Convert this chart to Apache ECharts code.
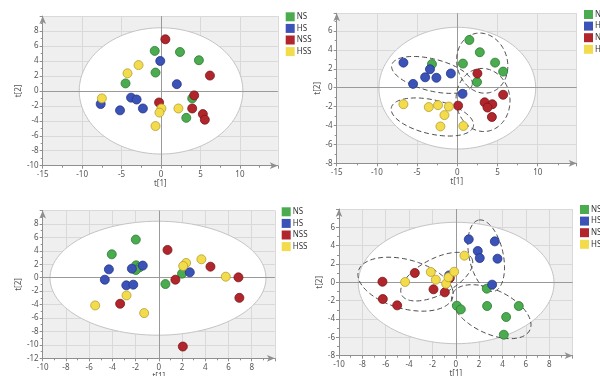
<!DOCTYPE html>
<html><head><meta charset="utf-8">
<script src="https://cdn.jsdelivr.net/npm/echarts@6/dist/echarts.min.js"></script>
<style>html,body{margin:0;padding:0;background:#fff}#c{width:600px;height:376px}</style>
</head><body><div id="c"></div>
<script>
// ---------- data ----------
const groups = ['NS', 'HS', 'NSS', 'HSS'];
const p1NS  = [[-0.8,5.35],[2.4,5.2],[4.8,4.1],[-0.7,2.45],[-4.5,1.0],[3.95,-1.0],[3.2,-3.6]];
const p1HS  = [[-0.1,4.0],[2.0,0.9],[-3.8,-0.9],[-3.1,-1.15],[-2.3,-2.35],[-5.2,-2.6],[-7.65,-1.75]];
const p1NSS = [[0.55,6.9],[6.2,2.05],[4.2,-0.6],[-0.25,-1.55],[3.95,-2.35],[5.3,-3.1],[5.55,-3.85]];
const p1HSS = [[-2.85,3.45],[-4.25,2.35],[-7.5,-1.0],[0.05,-2.35],[-0.2,-2.9],[2.2,-2.35],[-0.7,-4.7]];

const p2NS  = [[1.5,5.05],[2.8,3.75],[4.7,2.65],[5.7,1.7],[0.7,2.55],[-3.15,2.5],[2.45,0.6]];
const p2HS  = [[-6.7,2.65],[-3.4,1.95],[-4.0,1.1],[-2.6,1.05],[-0.8,1.5],[-5.5,0.4],[0.65,-0.65]];
const p2NSS = [[2.5,1.5],[5.7,-0.75],[3.4,-1.55],[4.35,-1.75],[3.75,-2.1],[4.3,-3.1],[0.1,-1.9]];
const p2HSS = [[-6.7,-1.75],[-3.55,-2.05],[-2.4,-1.85],[-1.05,-2.0],[-1.6,-2.9],[-2.1,-4.1],[0.75,-4.05]];

const p3NS  = [[-1.98,5.67],[-4.05,3.48],[-1.95,1.84],[-1.66,1.54],[-1.98,1.14],[2.0,0.6],[0.57,-0.95]];
const p3HS  = [[-1.38,1.8],[-2.32,1.34],[-4.3,1.24],[-4.65,-0.3],[-2.8,-1.14],[-2.2,-1.04],[2.67,0.8]];
const p3NSS = [[0.75,4.13],[4.45,1.64],[6.86,0.05],[6.94,-3.0],[1.43,-0.3],[-3.33,-3.88],[2.07,-10.25]];
const p3HSS = [[3.67,2.74],[2.35,2.19],[2.1,1.74],[5.77,0.15],[-2.78,-2.64],[-5.48,-4.13],[-1.26,-5.27]];

const p4NS  = [[2.65,-0.69],[0.09,-2.55],[0.43,-2.95],[2.68,-2.58],[5.39,-2.58],[4.31,-3.78],[4.11,-5.71]];
const p4HS  = [[1.11,4.69],[3.34,4.47],[1.88,3.42],[2.05,2.65],[3.57,2.58],[3.11,-0.25],[-0.57,0.76]];
const p4NSS = [[-6.28,0.07],[-6.25,-1.82],[-5.02,-2.51],[-3.51,1.02],[-1.91,-0.76],[-0.94,-1.09],[-0.51,0.47]];
const p4HSS = [[-4.34,0.04],[-2.14,1.13],[-1.71,0.29],[-0.83,-0.15],[-0.63,0.55],[-0.14,1.16],[0.74,2.91]];

// ellipses: [cx, cy, ux, uy, vx, vy]
const p1Main = [[0, 0, 10.37, 0, 0, 8.44]];
const p2Main = [[0, -0.05, 9.75, 0, 0, 6.44]];
const p3Main = [[-0.07, -0.08, 9.3, 0, 0, 8.48]];
const p4Main = [[0.03, -0.07, 8.38, 0, 0, 6.62]];
const p2Groups = [[3.1,2.6,-1.2,3.05,2.95,0.9],[-3.15,1.35,5.0,-1.06,-0.48,-1.64],[3.2,-1.3,-0.6,3.3,3.3,0.5],[-3.1,-3.1,5.1,-1.0,-0.5,-1.75]];
const p4Groups = [[3.04,-3.2,3.3,-2.0,-0.81,-2.16],[2.6,2.9,-0.6,3.9,1.45,0.25],[-4.3,-0.2,4.0,-0.5,-0.8,2.9],[-1.63,0.62,3.0,2.0,0.715,-1.74]];

// axis ranges
const xMin = [-15, -15, -10, -10], xMax = [14.8, 14.85, 10, 10], xInt = [5, 5, 2, 2];
const yMin = [-10, -8, -12, -8], yMax = [10, 7.87, 10, 8], yInt = [2, 2, 2, 2];

// ---------- style ----------
const FONT = 'Noto Sans';
const colors = {NS:'#4aab4f', HS:'#3b52b6', NSS:'#b1262c', HSS:'#f3dc4b'};
const borders = {NS:'#2f7a33', HS:'#24358a', NSS:'#781518', HSS:'#b59d33'};
const grids = [
  {left:42.7, top:16.1, width:235.1, height:149.6},
  {left:336.7, top:13.3, width:240, height:150},
  {left:42.7, top:210.5, width:232.2, height:147.8},
  {left:339, top:209, width:233.6, height:146.7}
];
const legendPos = [[285.7,12.3],[584,10],[281.7,207.3],[580,205]];
const yNameGap = [17, 14, 17, 15];

const axisColor = '#8f8f8f';
function xAxisOpt(i){
  return {type:'value', gridIndex:i, min:xMin[i], max:xMax[i], interval:xInt[i], position:'bottom',
    axisLine:{onZero:false, lineStyle:{color:axisColor, width:1}, symbol:['none','arrow'], symbolSize:[5,8]},
    axisTick:{length:3, lineStyle:{color:axisColor}},
    minorTick:{show:true, splitNumber:2, length:2, lineStyle:{color:axisColor}},
    splitLine:{show:true, lineStyle:{color:'#d9d9d9', width:1}},
    axisLabel:{fontSize:8, color:'#555', margin:5, fontFamily:FONT, showMaxLabel:false},
    name:'t[1]', nameLocation:'middle', nameGap:14,
    nameTextStyle:{fontSize:8, color:'#555', fontFamily:FONT}};
}
function yAxisOpt(i){
  return {type:'value', gridIndex:i, min:yMin[i], max:yMax[i], interval:yInt[i], position:'left',
    axisLine:{onZero:false, lineStyle:{color:axisColor, width:1}, symbol:['none','arrow'], symbolSize:[5,8]},
    axisTick:{length:3, lineStyle:{color:axisColor}},
    minorTick:{show:true, splitNumber:2, length:2, lineStyle:{color:axisColor}},
    splitLine:{show:true, lineStyle:{color:'#d9d9d9', width:1}},
    axisLabel:{fontSize:8, color:'#555', margin:4, fontFamily:FONT, showMaxLabel:false},
    name:'t[2]', nameLocation:'middle', nameGap:yNameGap[i], nameRotate:90,
    nameTextStyle:{fontSize:8, color:'#555', fontFamily:FONT}};
}
function ellipseRender(fill, stroke, dash){
  return function(params, api){
    const cx=api.value(0), cy=api.value(1), ux=api.value(2), uy=api.value(3), vx=api.value(4), vy=api.value(5);
    const pts=[];
    const N=120;
    for(let k=0;k<N;k++){
      const t=k/N*2*Math.PI, c=Math.cos(t), s=Math.sin(t);
      pts.push(api.coord([cx+ux*c+vx*s, cy+uy*c+vy*s]));
    }
    return {type:'polygon', shape:{points:pts},
      style:{fill:fill, stroke:stroke, lineWidth:1, lineDash:dash}};
  };
}

const panels = [
  {main:p1Main, dashed:null, pts:[p1NS,p1HS,p1NSS,p1HSS]},
  {main:p2Main, dashed:p2Groups, pts:[p2NS,p2HS,p2NSS,p2HSS]},
  {main:p3Main, dashed:null, pts:[p3NS,p3HS,p3NSS,p3HSS]},
  {main:p4Main, dashed:p4Groups, pts:[p4NS,p4HS,p4NSS,p4HSS]}
];

const series = [];
panels.forEach((p, i) => {
  series.push({type:'custom', xAxisIndex:i, yAxisIndex:i, z:1, silent:true,
    renderItem: ellipseRender('#ffffff', '#c4c4c4', null), data:p.main});
  if (p.dashed) {
    series.push({type:'custom', xAxisIndex:i, yAxisIndex:i, z:1.6, silent:true,
      renderItem: ellipseRender('none', '#4a4a4a', [5,3]), data:p.dashed});
  }
  p.pts.forEach((d, g) => {
    const name = groups[g];
    const s = {type:'scatter', name:name, xAxisIndex:i, yAxisIndex:i, z:2, data:d,
      symbol:'circle', symbolSize:9,
      itemStyle:{color:colors[name], borderColor:borders[name], borderWidth:0.8, opacity:1}};
    if (g === 0) {
      s.markLine = {silent:true, z:1.5, symbol:['none','none'], animation:false,
        label:{show:false}, lineStyle:{color:'#9a9a9a', width:1, type:'solid'},
        emphasis:{disabled:true},
        data:[{xAxis:0},{yAxis:0}]};
    }
    series.push(s);
  });
});

const option = {
  animation:false,
  backgroundColor:'#ffffff',
  textStyle:{fontFamily:FONT},
  grid: grids.map(g => Object.assign({show:true, backgroundColor:'#efefef', borderWidth:0, containLabel:false, outerBoundsMode:'none'}, g)),
  xAxis: [0,1,2,3].map(xAxisOpt),
  yAxis: [0,1,2,3].map(yAxisOpt),
  legend: legendPos.map(lp => ({
    data: groups, orient:'vertical', left:lp[0], top:lp[1], padding:0,
    icon:'rect', itemWidth:9, itemHeight:9, itemGap:2.6, selectedMode:false,
    itemStyle:{borderWidth:0},
    textStyle:{fontSize:8, color:'#333', fontFamily:FONT, lineHeight:9, padding:[0,0,0,-3]}
  })),
  series: series
};

const chart = echarts.init(document.getElementById('c'), null, {renderer:'canvas'});
chart.setOption(option);
</script>
</body></html>
